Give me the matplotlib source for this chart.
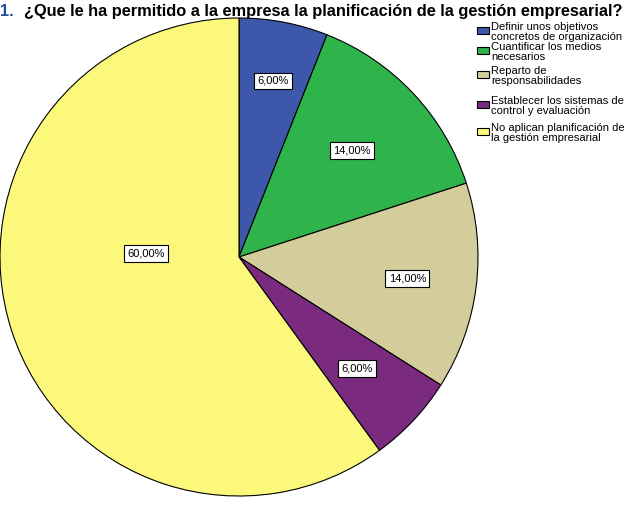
import numpy as np
import matplotlib
matplotlib.use("Agg")
import matplotlib.pyplot as plt
from matplotlib.patches import Rectangle
from matplotlib import font_manager

plt.rcParams['font.family'] = ['Liberation Sans', 'DejaVu Sans']

# data
categories = ["Definir unos objetivos\nconcretos de organización",
              "Cuantificar los medios\nnecesarios",
              "Reparto de\nresponsabilidades",
              "Establecer los sistemas de\ncontrol y evaluación",
              "No aplican planificación de\nla gestión empresarial"]
values = [6.0, 14.0, 14.0, 6.0, 60.0]
pct_labels = ["6,00%", "14,00%", "14,00%", "6,00%", "60,00%"]
colors = ["#3d58ab", "#2fb34b", "#d3cd9c", "#7a2a7f", "#fcf87c"]
label_r = [0.75, 0.65, 0.71, 0.68, 0.39]
title = "¿Que le ha permitido a la empresa la planificación de la gestión empresarial?"

names = {f.name for f in font_manager.fontManager.ttflist}
title_font = ['Liberation Sans Narrow'] if 'Liberation Sans Narrow' in names else ['Liberation Sans']
title_size = 14.5 if 'Liberation Sans Narrow' in names else 11.8

fig = plt.figure(figsize=(6.29, 5.07), dpi=100)
ax = fig.add_axes([0, 0, 1, 1])
R = 239.0
cx, cy = 239.0, 257.0
W, H = 629.0, 507.0

wedges, _ = ax.pie(values, colors=colors, startangle=90, counterclock=False,
                   radius=1.0, wedgeprops=dict(edgecolor="black", linewidth=0.8))
ax.set_aspect('auto')
ax.set_xlim(-cx / R, (W - cx) / R)
ax.set_ylim(-(H - cy) / R, cy / R)
ax.axis('off')

for i, w in enumerate(wedges):
    ang = np.deg2rad((w.theta1 + w.theta2) / 2)
    if i == 4:
        ang = np.deg2rad(178)
    x, y = label_r[i] * np.cos(ang), label_r[i] * np.sin(ang)
    ax.text(x, y, pct_labels[i], ha="center", va="center", fontsize=8,
            bbox=dict(boxstyle="square,pad=0.3", fc="white", ec="black", lw=0.8))

# title (clipped at top like the source)
fig.text(0.0, 1 - 16 / H, "1.", color="#1f4e9c", fontsize=title_size,
         fontweight="bold", family=title_font, va="baseline", ha="left")
fig.text(24 / W, 1 - 16 / H, title, fontsize=title_size, fontweight="bold",
         family=title_font, va="baseline", ha="left")

# legend, drawn by hand
tops = [22, 42, 66, 96, 123]
for i, lab in enumerate(categories):
    ytop = tops[i]
    fig.patches.append(Rectangle((477 / W, 1 - (ytop + 12) / H), 12 / W, 7 / H,
                                 transform=fig.transFigure, fc=colors[i],
                                 ec="black", lw=0.8))
    fig.text(491 / W, 1 - ytop / H, lab, fontsize=8, va="top", ha="left",
             linespacing=1.0)

fig.savefig("out.png", dpi=100)
